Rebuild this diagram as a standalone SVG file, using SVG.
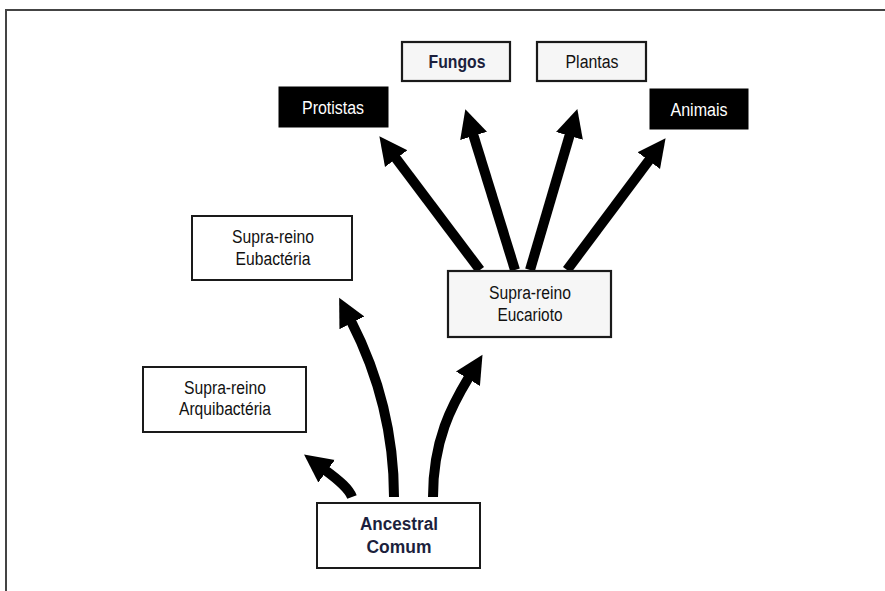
<svg xmlns="http://www.w3.org/2000/svg" width="885" height="591" viewBox="0 0 885 591">
<defs>
<style>
.box{fill:#fff;stroke:#1a1a1a;stroke-width:2}
.spk{fill:#f6f6f6;stroke:#1a1a1a;stroke-width:2.2}
.blk{fill:#000;stroke:#000;stroke-width:1}
.t{font-family:"Liberation Sans",Arial,sans-serif;font-size:18px;fill:#111;text-anchor:middle}
.w{fill:#fff}
.b{font-weight:bold;fill:#1c1f3d}
.arr{fill:none;stroke:#000;stroke-width:10;marker-end:url(#ah)}
</style>
<marker id="ah" viewBox="0 -15 30 30" refX="2" refY="0" markerWidth="30" markerHeight="30" markerUnits="userSpaceOnUse" orient="auto">
<path d="M0,-14 L28,0 L0,14 Z" fill="#000"/>
</marker>
</defs>
<rect width="885" height="591" fill="#fff"/>
<path d="M6,591 V10 H885" fill="none" stroke="#444" stroke-width="2"/>
<g id="connectors">
<path class="arr" d="M480,270 L395,157"/>
<path class="arr" d="M515,270 L473,134"/>
<path class="arr" d="M530,270 L570,134"/>
<path class="arr" d="M567,270 L650,159"/>
<path class="arr" d="M352,497 C349,489 340,481 325,470"/>
<path class="arr" d="M394,497 C394,420 372,362 351,321"/>
<path class="arr" d="M433,497 C433,440 452,405 469,377"/>
</g>
<g id="fungos">
<rect class="spk" x="402" y="42" width="108" height="39"/>
<text class="t b" x="457" y="68" textLength="57" lengthAdjust="spacingAndGlyphs">Fungos</text>
</g>
<g id="plantas">
<rect class="spk" x="537" y="42" width="109" height="39"/>
<text class="t" x="592" y="68" textLength="53" lengthAdjust="spacingAndGlyphs">Plantas</text>
</g>
<g id="protistas">
<rect class="blk" x="279" y="87" width="109" height="40"/>
<text class="t w" x="333" y="114" textLength="62" lengthAdjust="spacingAndGlyphs">Protistas</text>
</g>
<g id="animais">
<rect class="blk" x="650" y="89" width="98" height="40"/>
<text class="t w" x="699" y="116" textLength="57" lengthAdjust="spacingAndGlyphs">Animais</text>
</g>
<g id="eubacteria">
<rect class="box" x="192" y="216" width="160" height="64"/>
<text class="t" x="273" y="243" textLength="82" lengthAdjust="spacingAndGlyphs">Supra-reino</text>
<text class="t" x="273" y="265" textLength="75" lengthAdjust="spacingAndGlyphs">Eubactéria</text>
</g>
<g id="arquibacteria">
<rect class="box" x="143" y="367" width="163" height="65"/>
<text class="t" x="225" y="394" textLength="82" lengthAdjust="spacingAndGlyphs">Supra-reino</text>
<text class="t" x="225" y="415" textLength="92" lengthAdjust="spacingAndGlyphs">Arquibactéria</text>
</g>
<g id="eucarioto">
<rect class="spk" x="448" y="271" width="163" height="66"/>
<text class="t" x="530" y="299" textLength="82" lengthAdjust="spacingAndGlyphs">Supra-reino</text>
<text class="t" x="530" y="321" textLength="65" lengthAdjust="spacingAndGlyphs">Eucarioto</text>
</g>
<g id="ancestral">
<rect class="box" x="317" y="503" width="163" height="65"/>
<text class="t b" x="399" y="530" textLength="78" lengthAdjust="spacingAndGlyphs">Ancestral</text>
<text class="t b" x="399" y="553" textLength="65" lengthAdjust="spacingAndGlyphs">Comum</text>
</g>
</svg>
